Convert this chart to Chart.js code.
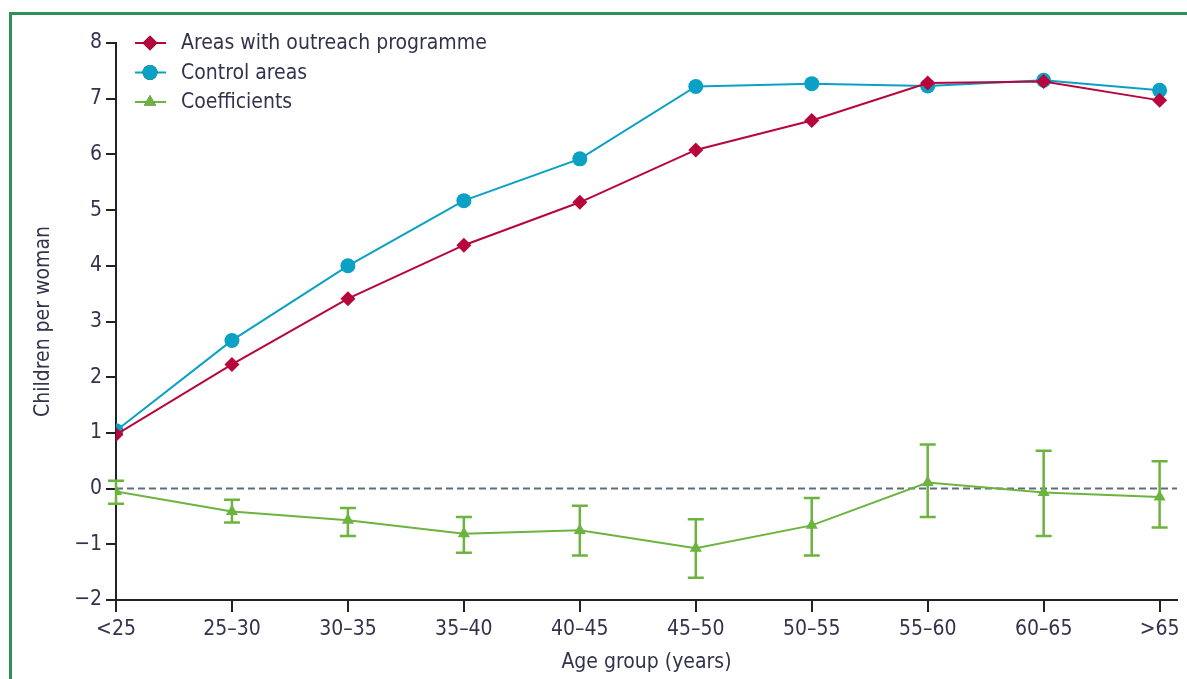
<!DOCTYPE html>
<html>
<head>
<meta charset="utf-8">
<script src="https://cdn.jsdelivr.net/npm/chart.js@4.4.0/dist/chart.umd.min.js"></script>
<style>
  html, body { margin: 0; padding: 0; background: #fff; }
  #wrap { position: relative; width: 1187px; height: 679px; overflow: hidden; }
  #frame { position: absolute; left: 9px; top: 12px; width: 1300px; height: 800px;
           border-top: 3px solid #2f8f5b; border-left: 3px solid #2f8f5b; }
  canvas { position: absolute; left: 0; top: 0; }
</style>
</head>
<body>
<div id="wrap">
  <div id="frame"></div>
  <canvas id="chart" width="1187" height="679"></canvas>
</div>
<script>
// age groups on the x axis
const ageGroups = ['<25', '25\u201330', '30\u201335', '35\u201340', '40\u201345', '45\u201350', '50\u201355', '55\u201360', '60\u201365', '>65'];

// children per woman
const outreach = [0.97, 2.23, 3.41, 4.37, 5.14, 6.08, 6.61, 7.28, 7.31, 6.97];
const control  = [1.04, 2.66, 4.00, 5.17, 5.92, 7.22, 7.27, 7.23, 7.33, 7.15];

// coefficients with their error bars
const coef     = [-0.05, -0.41, -0.57, -0.81, -0.75, -1.07, -0.66, 0.11, -0.07, -0.15];
const coefLow  = [-0.27, -0.61, -0.85, -1.15, -1.20, -1.60, -1.20, -0.51, -0.85, -0.70];
const coefHigh = [0.14, -0.20, -0.35, -0.51, -0.31, -0.55, -0.17, 0.79, 0.68, 0.49];

const yTicks = [-2, -1, 0, 1, 2, 3, 4, 5, 6, 7, 8];

const RED = '#b8063c';
const BLUE = '#0aa1c4';
const GREEN = '#6db33f';
const TXT = '#33334d';
const FONT = "'DejaVu Sans Condensed', 'Open Sans', sans-serif";

function pts(arr) { return arr.map((v, i) => ({ x: i, y: v })); }

// dashed line at zero, drawn under the series
const zeroLine = {
  id: 'zeroLine',
  beforeDatasetsDraw(chart) {
    const { ctx, chartArea, scales } = chart;
    const y = scales.y.getPixelForValue(0);
    ctx.save();
    ctx.strokeStyle = '#5b6f79';
    ctx.lineWidth = 2;
    ctx.setLineDash([7, 4]);
    ctx.beginPath();
    ctx.moveTo(chartArea.left, y);
    ctx.lineTo(chartArea.right, y);
    ctx.stroke();
    ctx.restore();
  }
};

// error bars for the coefficients
const errorBars = {
  id: 'errorBars',
  afterDatasetsDraw(chart) {
    const { ctx, scales } = chart;
    ctx.save();
    ctx.strokeStyle = GREEN;
    ctx.lineWidth = 2.5;
    for (let i = 0; i < coef.length; i++) {
      const x = scales.x.getPixelForValue(i);
      const yl = scales.y.getPixelForValue(coefLow[i]);
      const yh = scales.y.getPixelForValue(coefHigh[i]);
      ctx.beginPath();
      ctx.moveTo(x, yl); ctx.lineTo(x, yh);
      ctx.moveTo(x - 8, yl); ctx.lineTo(x + 8, yl);
      ctx.moveTo(x - 8, yh); ctx.lineTo(x + 8, yh);
      ctx.stroke();
    }
    ctx.restore();
  }
};

// legend in the top-left corner of the plot, line + marker
const cornerLegend = {
  id: 'cornerLegend',
  afterDraw(chart) {
    const { ctx, chartArea } = chart;
    ctx.save();
    ctx.font = '21px ' + FONT;
    ctx.textBaseline = 'middle';
    chart.data.datasets.forEach((ds, i) => {
      const y = chartArea.top + i * 29.5;
      const x0 = chartArea.left + 19;
      ctx.strokeStyle = ds.borderColor;
      ctx.lineWidth = 2;
      ctx.setLineDash([]);
      ctx.beginPath();
      ctx.moveTo(x0, y); ctx.lineTo(x0 + 31, y);
      ctx.stroke();
      Chart.helpers.drawPoint(ctx, {
        pointStyle: ds.pointStyle, radius: ds.pointRadius, rotation: 0, borderWidth: 0
      }, x0 + 15, y);
      ctx.fillStyle = ds.borderColor;
      ctx.fill();
      ctx.fillStyle = TXT;
      ctx.fillText(ds.label, x0 + 46, y + 1);
    });
    ctx.restore();
  }
};

new Chart(document.getElementById('chart'), {
  type: 'line',
  data: {
    datasets: [
      { label: 'Areas with outreach programme', data: pts(outreach), borderColor: RED, backgroundColor: RED,
        borderWidth: 2, pointStyle: 'rectRot', pointRadius: 7.5, pointBorderWidth: 0 },
      { label: 'Control areas', data: pts(control), borderColor: BLUE, backgroundColor: BLUE,
        borderWidth: 2, pointStyle: 'circle', pointRadius: 7.5, pointBorderWidth: 0 },
      { label: 'Coefficients', data: pts(coef), borderColor: GREEN, backgroundColor: GREEN,
        borderWidth: 2, pointStyle: 'triangle', pointRadius: 7, pointBorderWidth: 0 }
    ]
  },
  options: {
    responsive: false,
    animation: false,
    layout: { padding: { top: 43, right: 10, bottom: 0, left: 0 } },
    plugins: { legend: { display: false }, tooltip: { enabled: false } },
    scales: {
      x: {
        type: 'linear', min: 0, max: 9.15,
        afterBuildTicks: (s) => { s.ticks = ageGroups.map((_, i) => ({ value: i })); },
        afterFit: (s) => { s.height = 79; },
        ticks: { color: TXT, font: { family: FONT, size: 21 }, padding: 5, maxRotation: 0,
                 callback: (v) => ageGroups[v] },
        grid: { drawOnChartArea: false, drawTicks: true, tickLength: 12, color: '#222', lineWidth: 2 },
        border: { display: true, color: '#222', width: 2 },
        title: { display: true, text: 'Age group (years)', color: TXT, font: { family: FONT, size: 21 }, padding: { top: 0, bottom: 4 } }
      },
      y: {
        min: -2, max: 8,
        afterBuildTicks: (s) => { s.ticks = yTicks.map(v => ({ value: v })); },
        afterFit: (s) => { s.width = 116; },
        ticks: { color: TXT, font: { family: FONT, size: 21 }, padding: 4,
                 callback: (v) => v < 0 ? '\u2212' + Math.abs(v) : String(v) },
        grid: { drawOnChartArea: false, drawTicks: true, tickLength: 10, color: '#222', lineWidth: 2 },
        border: { display: true, color: '#222', width: 2 },
        title: { display: true, text: 'Children per woman', color: TXT, font: { family: FONT, size: 21 }, padding: { top: 31, bottom: 0 } }
      }
    }
  },
  plugins: [zeroLine, errorBars, cornerLegend]
});
</script>
</body>
</html>
